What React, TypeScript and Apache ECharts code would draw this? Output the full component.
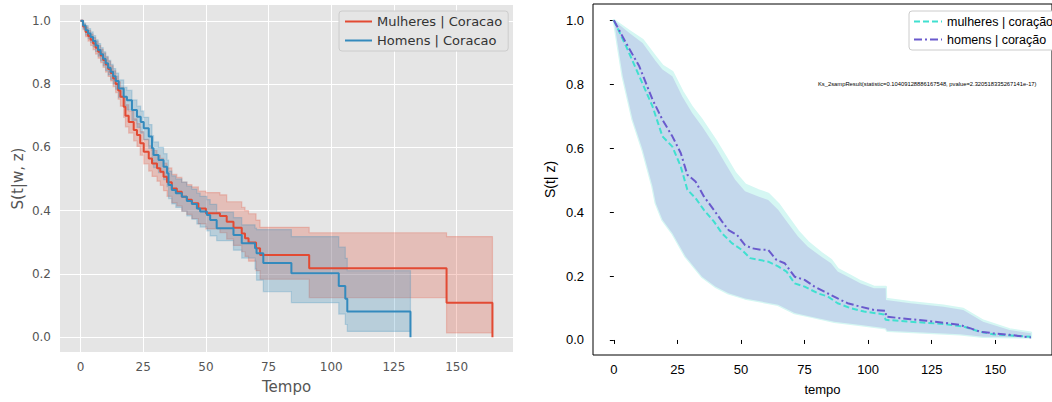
import React, { useEffect, useRef } from 'react';
import * as echarts from 'echarts';

// ---------- shared ticks ----------
const xTicks = [0, 25, 50, 75, 100, 125, 150];
const yTicks = [0, 0.2, 0.4, 0.6, 0.8, 1.0];

// ---------- left panel: Kaplan-Meier ----------
const nameMulheresL = 'Mulheres | Coracao';
const nameHomensL = 'Homens | Coracao';

const tMulheres = [0, 1, 2, 3, 4, 5, 6, 7, 8, 9, 10, 11, 12, 13, 14, 15, 15.9, 17.2, 17.9, 19.2, 21.2, 22.5, 23.8, 25.2, 27.2, 28.5, 30.5, 31.8, 33.1, 34.5, 36.4, 38.4, 40.4, 42.4, 44.4, 47, 50, 55.6, 58.3, 61, 64.3, 65.6, 67, 70, 71.6, 91.2, 146, 164.3];
const sMulheres = [1.0, 0.982, 0.965, 0.952, 0.94, 0.928, 0.915, 0.902, 0.89, 0.876, 0.862, 0.848, 0.835, 0.818, 0.8, 0.78, 0.76, 0.728, 0.7, 0.68, 0.655, 0.639, 0.613, 0.586, 0.565, 0.549, 0.534, 0.523, 0.507, 0.49, 0.47, 0.46, 0.444, 0.434, 0.423, 0.407, 0.392, 0.383, 0.365, 0.346, 0.328, 0.313, 0.299, 0.281, 0.26, 0.218, 0.109, 0];
const upMulheres = [1.0, 0.99, 0.98, 0.969, 0.958, 0.947, 0.935, 0.922, 0.91, 0.898, 0.885, 0.872, 0.858, 0.842, 0.825, 0.807, 0.79, 0.76, 0.735, 0.715, 0.69, 0.675, 0.65, 0.625, 0.605, 0.59, 0.575, 0.565, 0.55, 0.535, 0.515, 0.505, 0.49, 0.482, 0.475, 0.462, 0.457, 0.45, 0.428, 0.428, 0.41, 0.4, 0.39, 0.37, 0.347, 0.33, 0.318, 0.318];
const loMulheres = [1.0, 0.972, 0.95, 0.936, 0.922, 0.909, 0.895, 0.882, 0.868, 0.853, 0.838, 0.824, 0.81, 0.792, 0.773, 0.752, 0.73, 0.695, 0.665, 0.645, 0.62, 0.603, 0.575, 0.548, 0.525, 0.508, 0.493, 0.48, 0.463, 0.445, 0.425, 0.415, 0.398, 0.388, 0.375, 0.358, 0.342, 0.33, 0.31, 0.29, 0.27, 0.255, 0.24, 0.21, 0.183, 0.125, 0.013, 0.013];

const tHomens = [0, 1, 2, 3, 4, 5, 6, 7, 8, 9, 10, 11, 12, 13, 14, 15.2, 17.2, 18.5, 20.5, 22.5, 24, 25.2, 27.2, 28.5, 29.1, 31.1, 33.1, 34.5, 35.1, 36.4, 38, 40.4, 42.4, 44.4, 46.4, 47.7, 50.4, 51.7, 54.3, 61, 64.3, 69.6, 70.2, 72.9, 84.1, 103, 105.6, 106.4, 131.6];
const sHomens = [1.0, 0.985, 0.97, 0.96, 0.949, 0.936, 0.922, 0.908, 0.894, 0.88, 0.866, 0.852, 0.839, 0.825, 0.81, 0.786, 0.76, 0.749, 0.718, 0.697, 0.68, 0.66, 0.634, 0.597, 0.576, 0.56, 0.539, 0.518, 0.481, 0.465, 0.455, 0.444, 0.43, 0.421, 0.407, 0.397, 0.386, 0.37, 0.344, 0.323, 0.297, 0.281, 0.265, 0.234, 0.202, 0.162, 0.121, 0.081, 0];
const upHomens = [1.0, 0.993, 0.985, 0.975, 0.965, 0.953, 0.94, 0.928, 0.915, 0.902, 0.888, 0.875, 0.862, 0.849, 0.835, 0.813, 0.79, 0.78, 0.75, 0.73, 0.715, 0.695, 0.672, 0.637, 0.617, 0.6, 0.58, 0.56, 0.525, 0.51, 0.5, 0.49, 0.477, 0.468, 0.455, 0.445, 0.435, 0.42, 0.395, 0.378, 0.355, 0.345, 0.34, 0.34, 0.318, 0.285, 0.249, 0.21, 0.21];
const loHomens = [1.0, 0.975, 0.955, 0.944, 0.932, 0.918, 0.903, 0.888, 0.873, 0.858, 0.843, 0.829, 0.815, 0.8, 0.784, 0.758, 0.73, 0.718, 0.685, 0.663, 0.645, 0.624, 0.597, 0.558, 0.536, 0.52, 0.498, 0.476, 0.438, 0.421, 0.41, 0.398, 0.383, 0.373, 0.358, 0.348, 0.336, 0.32, 0.305, 0.275, 0.25, 0.215, 0.18, 0.144, 0.109, 0.073, 0.04, 0.018, 0.018];

// ---------- right panel ----------
const nameMulheresR = 'mulheres | coração';
const nameHomensR = 'homens | coração';

const tWomenR = [0, 4.8, 10, 15.2, 19.1, 23, 26.3, 28.9, 32.1, 35.4, 39.3, 42.5, 46.4, 50.3, 53.6, 56.8, 60.7, 64.6, 67.9, 71.1, 75, 80.2, 84.1, 88, 93.2, 98.4, 106.2, 106.9, 116.6, 129.6, 137.4, 144, 149.1, 164];
const sWomenR = [1.0, 0.919, 0.825, 0.731, 0.637, 0.605, 0.543, 0.47, 0.444, 0.407, 0.371, 0.334, 0.303, 0.282, 0.256, 0.251, 0.245, 0.23, 0.214, 0.177, 0.167, 0.146, 0.136, 0.115, 0.099, 0.089, 0.08, 0.063, 0.057, 0.05, 0.042, 0.026, 0.018, 0.01];

const tMenR = [0, 4.8, 10, 15.2, 19.1, 23, 26.3, 28.9, 32.1, 35.4, 39.3, 42.5, 45.1, 48.4, 51.6, 54.2, 58.1, 60.7, 64, 67.2, 71.1, 75, 78.9, 82.8, 88, 91.9, 97.1, 102.3, 106.9, 107, 116.6, 123, 129.6, 136.1, 140, 144, 149.1, 155.6, 164];
const sMenR = [1.0, 0.929, 0.856, 0.752, 0.689, 0.637, 0.585, 0.517, 0.496, 0.449, 0.407, 0.371, 0.344, 0.329, 0.297, 0.287, 0.282, 0.282, 0.25, 0.24, 0.198, 0.188, 0.167, 0.151, 0.13, 0.115, 0.104, 0.094, 0.091, 0.073, 0.065, 0.06, 0.054, 0.047, 0.037, 0.026, 0.021, 0.016, 0.008];

const tBandUp = [0, 6.1, 11.3, 16.5, 19.1, 23, 26.9, 30.8, 34.7, 39.9, 43.8, 47.7, 51.6, 56.8, 60.7, 64.6, 68.5, 72.4, 76.3, 81.5, 85.4, 88, 93.2, 97.1, 102.3, 106.9, 107, 116.6, 129.6, 137.4, 145.2, 155.6, 164];
const sBandUp = [1.0, 0.96, 0.929, 0.872, 0.846, 0.825, 0.762, 0.71, 0.668, 0.605, 0.553, 0.501, 0.465, 0.449, 0.438, 0.407, 0.365, 0.324, 0.292, 0.261, 0.24, 0.214, 0.193, 0.177, 0.162, 0.162, 0.125, 0.115, 0.104, 0.094, 0.057, 0.031, 0.021];
const sBandUpCyan = [1.0, 0.966, 0.938, 0.884, 0.858, 0.838, 0.777, 0.727, 0.687, 0.625, 0.574, 0.522, 0.486, 0.468, 0.457, 0.426, 0.383, 0.34, 0.306, 0.272, 0.25, 0.222, 0.2, 0.183, 0.166, 0.166, 0.128, 0.118, 0.107, 0.097, 0.06, 0.033, 0.023];
const tBandLo = [0, 3.5, 7.4, 11.3, 15.2, 16.5, 19.1, 23, 28.2, 34.7, 39.9, 45.1, 51.6, 58.1, 64.6, 71.1, 77.6, 86.7, 97.1, 106.9, 107.5, 136.1, 145.2, 164];
const sBandLo = [1.0, 0.825, 0.689, 0.595, 0.48, 0.428, 0.376, 0.334, 0.261, 0.198, 0.167, 0.146, 0.13, 0.12, 0.11, 0.084, 0.073, 0.057, 0.047, 0.037, 0.029, 0.018, 0.01, 0.008];

const ksText = 'Ks_2sampResult(statistic=0.10409128886167548, pvalue=2.320518335267141e-17)';

// ---------- helpers ----------
function stepPts(t: number[], s: number[]): number[][] {
  const out: number[][] = [[t[0], s[0]]];
  for (let i = 1; i < t.length; i++) {
    out.push([t[i], s[i - 1]]);
    out.push([t[i], s[i]]);
  }
  return out;
}
function linePts(t: number[], s: number[]): number[][] {
  return t.map((v, i) => [v, s[i]]);
}
function bandRender(up: number[][], lo: number[][], style: any) {
  return (params: any, api: any) => {
    const pu = up.map((p) => api.coord(p));
    const pl = lo.map((p) => api.coord(p)).reverse();
    return { type: 'polygon', shape: { points: pu.concat(pl) }, style, silent: true };
  };
}

const DJ = 'DejaVu Sans';
const LS = 'Liberation Sans, Arial, sans-serif';
const noSymbol = { color: 'rgba(0,0,0,0)', borderColor: 'rgba(0,0,0,0)', borderWidth: 0, opacity: 0 };

export default function App() {
  const ref = useRef<HTMLDivElement>(null);
  useEffect(() => {
    if (!ref.current) return;
    const chart = echarts.init(ref.current, undefined, { renderer: 'svg' });

    const leftXAxis = {
      gridIndex: 0, type: 'value', min: -8.2, max: 172.5,
      axisLine: { show: false },
      axisTick: { show: true, customValues: xTicks, length: 4, lineStyle: { color: '#555' } },
      axisLabel: { customValues: xTicks, color: '#555', fontSize: 12, fontFamily: DJ, margin: 9 },
      splitLine: { show: false },
      name: 'Tempo', nameLocation: 'middle', nameGap: 27,
      nameTextStyle: { color: '#555', fontSize: 15, fontFamily: DJ },
    };
    const leftYAxis = {
      gridIndex: 0, type: 'value', min: -0.047, max: 1.05,
      axisLine: { show: false },
      axisTick: { show: true, customValues: yTicks, length: 4, lineStyle: { color: '#555' } },
      axisLabel: { customValues: yTicks, color: '#555', fontSize: 12, fontFamily: DJ, margin: 9, formatter: (v: number) => v.toFixed(1) },
      splitLine: { show: false },
      name: 'S(t|w, z)', nameLocation: 'middle', nameGap: 35,
      nameTextStyle: { color: '#555', fontSize: 15, fontFamily: DJ },
    };
    const rightXAxis = {
      gridIndex: 1, type: 'value', min: -8.2, max: 172.3,
      axisLine: { show: false },
      axisTick: { show: true, customValues: xTicks, length: 4, lineStyle: { color: '#000' } },
      axisLabel: { customValues: xTicks, color: '#000', fontSize: 13, fontFamily: LS, margin: 8 },
      splitLine: { show: false },
      name: 'tempo', nameLocation: 'middle', nameGap: 28,
      nameTextStyle: { color: '#000', fontSize: 13, fontFamily: LS },
    };
    const rightYAxis = {
      gridIndex: 1, type: 'value', min: -0.047, max: 1.051,
      axisLine: { show: false },
      axisTick: { show: true, customValues: yTicks, length: 4, lineStyle: { color: '#000' } },
      axisLabel: { customValues: yTicks, color: '#000', fontSize: 13, fontFamily: LS, margin: 9, formatter: (v: number) => v.toFixed(1) },
      splitLine: { show: false },
      name: 'S(t| z)', nameLocation: 'middle', nameGap: 36,
      nameTextStyle: { color: '#000', fontSize: 14, fontFamily: LS },
    };

    const option: any = {
      animation: false,
      backgroundColor: '#fff',
      grid: [
        { left: 60, top: 5, width: 453, height: 347, show: true, backgroundColor: '#E5E5E5', borderWidth: 0 },
        { left: 593, top: 4, width: 463, height: 351, show: true, backgroundColor: 'transparent', borderColor: '#000', borderWidth: 1 },
      ],
      xAxis: [leftXAxis, rightXAxis],
      yAxis: [leftYAxis, rightYAxis],
      legend: [
        {
          data: [nameMulheresL, nameHomensL], orient: 'vertical', left: 339, top: 11, z: 10,
          itemWidth: 27, itemHeight: 14, itemGap: 6, padding: [4, 6, 4, 5],
          backgroundColor: '#E5E5E5', borderColor: '#CCCCCC', borderWidth: 1, borderRadius: 3,
          itemStyle: noSymbol,
          textStyle: { fontSize: 13, color: '#333', fontFamily: DJ },
        },
        {
          data: [nameMulheresR, nameHomensR], orient: 'vertical', left: 909, top: 11, z: 10,
          itemWidth: 28, itemHeight: 14, itemGap: 5, padding: [4, 3, 4, 4],
          backgroundColor: '#fff', borderColor: '#CCCCCC', borderWidth: 1, borderRadius: 3,
          itemStyle: noSymbol,
          textStyle: { fontSize: 12.5, color: '#000', fontFamily: LS },
        },
      ],
      graphic: [
        { type: 'text', left: 818, top: 81, silent: true, style: { text: ksText, fontSize: 5.8, fontFamily: LS, fill: '#000' } },
      ],
      series: [
        // grid lines of the left panel (below everything)
        {
          type: 'line', xAxisIndex: 0, yAxisIndex: 0, z: 1, silent: true,
          data: [[0, 1]], symbol: 'none', lineStyle: { width: 0, opacity: 0 },
          markLine: {
            z: 1, silent: true, symbol: ['none', 'none'], label: { show: false },
            lineStyle: { color: '#FFFFFF', width: 1, type: 'solid' },
            data: [...xTicks.map((v) => ({ xAxis: v })), ...yTicks.map((v) => ({ yAxis: v }))],
          },
        },
        {
          type: 'custom', xAxisIndex: 0, yAxisIndex: 0, z: 2, silent: true, data: [[0, 0]],
          renderItem: bandRender(stepPts(tMulheres, upMulheres), stepPts(tMulheres, loMulheres),
            { fill: 'rgba(226,74,51,0.25)', stroke: 'rgba(226,74,51,0.25)', lineWidth: 1.2 }),
        },
        {
          type: 'custom', xAxisIndex: 0, yAxisIndex: 0, z: 2, silent: true, data: [[0, 0]],
          renderItem: bandRender(stepPts(tHomens, upHomens), stepPts(tHomens, loHomens),
            { fill: 'rgba(52,138,189,0.25)', stroke: 'rgba(52,138,189,0.25)', lineWidth: 1.2 }),
        },
        {
          name: nameMulheresL, type: 'line', xAxisIndex: 0, yAxisIndex: 0, z: 3,
          data: stepPts(tMulheres, sMulheres), symbol: 'none', showSymbol: false,
          color: '#E24A33', lineStyle: { color: '#E24A33', width: 2 },
        },
        {
          name: nameHomensL, type: 'line', xAxisIndex: 0, yAxisIndex: 0, z: 3,
          data: stepPts(tHomens, sHomens), symbol: 'none', showSymbol: false,
          color: '#348ABD', lineStyle: { color: '#348ABD', width: 2 },
        },
        // right panel bands
        {
          type: 'custom', xAxisIndex: 1, yAxisIndex: 1, z: 2, silent: true, data: [[0, 0]],
          renderItem: bandRender(linePts(tBandUp, sBandUpCyan), linePts(tBandLo, sBandLo),
            { fill: '#D5F7F3', stroke: '#D5F7F3', lineWidth: 2.5, lineJoin: 'round' }),
        },
        {
          type: 'custom', xAxisIndex: 1, yAxisIndex: 1, z: 2, silent: true, data: [[0, 0]],
          renderItem: bandRender(linePts(tBandUp, sBandUp), linePts(tBandLo, sBandLo),
            { fill: '#C4D8EC', stroke: 'none' }),
        },
        {
          name: nameMulheresR, type: 'line', xAxisIndex: 1, yAxisIndex: 1, z: 3,
          data: linePts(tWomenR, sWomenR), symbol: 'none', showSymbol: false,
          color: '#40E0D0', lineStyle: { color: '#40E0D0', width: 2, type: [6, 3] },
        },
        {
          name: nameHomensR, type: 'line', xAxisIndex: 1, yAxisIndex: 1, z: 3,
          data: linePts(tMenR, sMenR), symbol: 'none', showSymbol: false,
          color: '#6A5ACD', lineStyle: { color: '#6A5ACD', width: 2, type: [8, 3, 2, 3] },
        },
      ],
    };
    chart.setOption(option);
    return () => chart.dispose();
  }, []);
  return <div ref={ref} style={{ position: 'absolute', left: 0, top: 0, width: 1052, height: 402 }} />;
}
